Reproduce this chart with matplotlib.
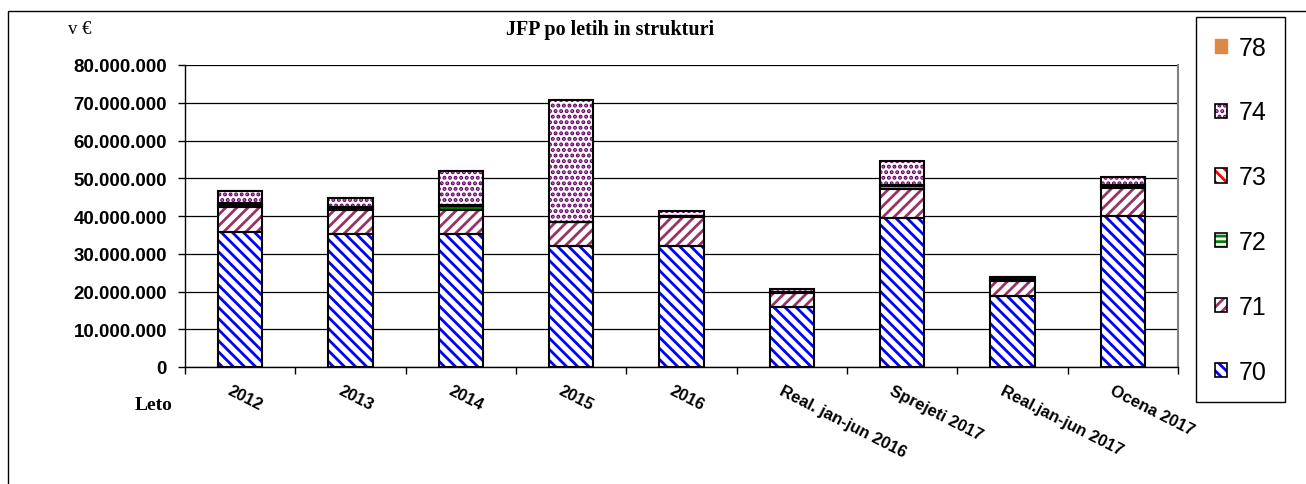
import matplotlib
matplotlib.use("Agg")
import matplotlib.pyplot as plt
from matplotlib.patches import Patch, Rectangle
from matplotlib.ticker import FuncFormatter, FixedLocator
from matplotlib.transforms import ScaledTranslation
import numpy as np

# ---------------- data (values in million EUR) ----------------
categories = ["2012", "2013", "2014", "2015", "2016",
              "Real. jan-jun 2016", "Sprejeti 2017", "Real.jan-jun 2017", "Ocena 2017"]
s70 = [35.7, 35.2, 35.2, 32.1, 32.1, 15.8, 39.5, 18.9, 40.1]
s71 = [6.8, 6.3, 6.3, 6.2, 7.6, 3.8, 7.7, 4.0, 7.2]
s72 = [0.4, 0.3, 1.2, 0.1, 0.2, 0.2, 0.7, 0.3, 0.5]
s73 = [0.5, 0.7, 0.3, 0.1, 0.2, 0.2, 0.2, 0.2, 0.3]
s74 = [3.3, 2.3, 9.0, 32.3, 1.1, 0.6, 6.4, 0.4, 2.1]
s78 = [0.2, 0.2, 0.3, 0.2, 0.1, 0.1, 0.2, 0.2, 0.2]
series_names = ["70", "71", "72", "73", "74", "78"]
yticks_vals = [0, 10e6, 20e6, 30e6, 40e6, 50e6, 60e6, 70e6, 80e6]

series = [np.array(s) * 1e6 for s in (s70, s71, s72, s73, s74, s78)]
styles = {
    "70": dict(color="#0000ff", hatch="\\\\\\"),
    "71": dict(color="#993366", hatch="///"),
    "72": dict(color="#008000", hatch="---"),
    "73": dict(color="#ff0000", hatch="\\\\\\"),
    "74": dict(color="#660066", hatch="..."),
    "78": dict(color="#dd8844", hatch=None),
}

plt.rcParams["hatch.linewidth"] = 2.0
W, H = 1306, 485
fig = plt.figure(figsize=(W / 100, H / 100), dpi=100)
fig.patch.set_facecolor("white")

# outer frame
fig.add_artist(Rectangle((8 / W, -0.1), 1.2, 1 - 12 / H + 0.1, transform=fig.transFigure,
                         fill=False, edgecolor="black", lw=1.0, clip_on=False))

ax = fig.add_axes([185 / W, (H - 368) / H, 993 / W, 302 / H])
x = np.arange(len(categories))
width = 0.4
bottom = np.zeros(len(categories))
handles = []
for name, vals in zip(series_names, series):
    st = styles[name]
    if st["hatch"] is None:
        ax.bar(x, vals, width, bottom=bottom, color=st["color"], edgecolor=st["color"],
               lw=0.8, zorder=3)
        h = Patch(facecolor=st["color"], edgecolor=st["color"])
    else:
        ax.bar(x, vals, width, bottom=bottom, facecolor="white", edgecolor=st["color"],
               hatch=st["hatch"], lw=0, zorder=3)
        ax.bar(x, vals, width, bottom=bottom, fill=False, edgecolor="black", lw=1.5, zorder=4)
        h = (Patch(facecolor="white", edgecolor=st["color"], hatch=st["hatch"], lw=0),
             Patch(fill=False, edgecolor="black", lw=1.2))
    handles.append(h)
    bottom = bottom + vals

ax.set_xlim(-0.5, len(categories) - 0.5)
ax.set_ylim(0, 80e6)
ax.yaxis.set_major_locator(FixedLocator(yticks_vals))
ax.yaxis.set_major_formatter(FuncFormatter(lambda v, p: f"{int(v):,}".replace(",", ".")))
ax.yaxis.grid(True, color="black", lw=0.9, zorder=0)
ax.set_axisbelow(True)
for t in ax.get_yticklabels():
    t.set_fontfamily("Liberation Sans")
    t.set_fontweight("bold")
    t.set_fontsize(13.5)
ax.tick_params(axis="y", direction="out", length=5, width=1, pad=8)

ax.spines["top"].set_visible(False)
ax.spines["right"].set_color("#808080")
ax.spines["right"].set_linewidth(1.5)
ax.spines["left"].set_linewidth(1.0)
ax.spines["bottom"].set_linewidth(1.0)

ax.set_xticks(x)
ax.set_xticks(np.arange(len(categories) + 1) - 0.5, minor=True)
ax.tick_params(axis="x", which="major", length=0, pad=11)
ax.tick_params(axis="x", which="minor", length=5, width=1, direction="out")
ax.set_xticklabels(categories, rotation=-27, ha="left", va="top", rotation_mode="anchor",
                   fontfamily="Liberation Sans", fontweight="bold", fontsize=12)
for t in ax.get_xticklabels():
    t.set_transform(t.get_transform() + ScaledTranslation(-8 / 100, 0, fig.dpi_scale_trans))

fig.text(135 / W, 1 - 405 / H, "Leto", fontfamily="Liberation Serif", fontweight="bold",
         fontsize=14, ha="left", va="center")
fig.text(68 / W, 1 - 30 / H, "v €", fontfamily="Liberation Serif", fontsize=13.5,
         ha="left", va="center")
fig.text(610 / W, 1 - 30 / H, "JFP po letih in strukturi", fontfamily="Liberation Serif",
         fontweight="bold", fontsize=14.5, ha="center", va="center")

leg = fig.legend(handles[::-1], series_names[::-1], loc="upper left",
                 bbox_to_anchor=(1196 / W, 1 - 18 / H), bbox_transform=fig.transFigure,
                 frameon=True, fancybox=False, edgecolor="black", framealpha=1,
                 prop={"family": "Liberation Sans", "size": 18},
                 labelspacing=1.63, handlelength=0.5, handleheight=0.5,
                 handletextpad=0.45, borderpad=0.75, borderaxespad=0)
leg.get_frame().set_linewidth(1.0)

fig.savefig("out.png", dpi=100, facecolor="white")
